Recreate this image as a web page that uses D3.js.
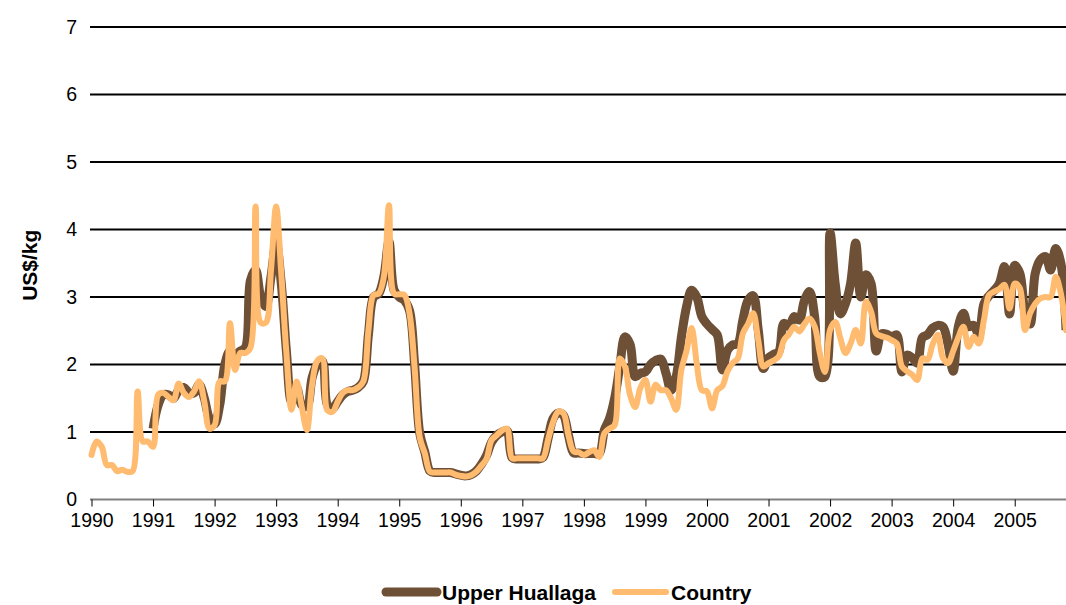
<!DOCTYPE html>
<html>
<head>
<meta charset="utf-8">
<script src="https://cdn.jsdelivr.net/npm/d3@7/dist/d3.min.js"></script>
<style>
  body { margin: 0; background: #fff; }
  svg { font-family: Arial, "Liberation Sans", sans-serif; }
</style>
</head>
<body>
<svg></svg>
<script>
var WIDTH = 1066;
var HEIGHT = 605;

// monthly prices, Jan 1990 .. Nov 2005 (US$/kg)
var years = [1990,1991,1992,1993,1994,1995,1996,1997,1998,1999,2000,2001,2002,2003,2004,2005];
var yTicks = [0,1,2,3,4,5,6,7];

var country = [
  0.66,0.86,0.78,0.51,0.51,0.42,0.44,0.41,0.42,1.60,0.86,0.86,
  0.78,1.55,1.58,1.52,1.47,1.72,1.58,1.52,1.60,1.75,1.45,1.05,
  1.10,1.75,1.75,2.61,1.92,2.17,2.17,2.25,4.34,2.62,2.62,3.40,
  4.34,3.35,2.17,1.33,1.75,1.37,1.03,1.70,2.05,2.09,1.32,1.30,
  1.45,1.58,1.62,1.62,1.66,1.75,2.51,3.03,3.05,3.30,4.36,3.05,
  3.04,3.03,2.76,1.95,0.92,0.68,0.41,0.40,0.40,0.40,0.40,0.37,
  0.35,0.34,0.36,0.41,0.50,0.60,0.88,0.95,1.02,1.05,0.61,0.61,
  0.61,0.61,0.61,0.61,0.61,0.88,1.15,1.30,1.28,0.95,0.71,0.70,
  0.66,0.70,0.73,0.63,0.98,1.05,1.10,2.09,1.97,1.55,1.37,1.65,
  1.77,1.45,1.70,1.62,1.62,1.50,1.33,1.92,2.20,2.54,2.02,1.62,
  1.60,1.35,1.62,1.68,1.90,2.02,2.09,2.46,2.60,2.76,2.36,1.97,
  2.02,2.06,2.12,2.36,2.45,2.56,2.49,2.60,2.68,2.56,2.17,1.89,
  2.51,2.63,2.39,2.17,2.31,2.51,2.31,2.93,2.78,2.46,2.42,2.40,
  2.36,2.31,1.97,1.90,1.85,1.77,2.09,2.07,2.30,2.44,2.10,2.02,
  2.20,2.40,2.56,2.26,2.41,2.31,2.66,3.03,3.08,3.12,3.18,2.83,
  3.20,3.13,2.51,2.76,2.90,2.98,3.00,3.00,3.30,3.05,2.51
];

var upperHuallaga = [
  null,null,null,null,null,null,null,null,null,null,null,null,
  1.05,1.40,1.55,1.55,1.50,1.62,1.66,1.58,1.58,1.70,1.50,1.20,
  1.12,1.40,2.00,2.20,2.15,2.20,2.25,3.25,3.40,3.00,2.86,3.30,
  3.80,3.20,2.20,1.45,1.65,1.40,1.38,1.80,2.00,2.05,1.40,1.35,
  1.45,1.55,1.60,1.62,1.66,1.75,2.45,3.00,3.05,3.30,3.82,3.10,
  3.00,2.95,2.80,2.00,0.98,0.70,0.42,0.40,0.40,0.40,0.40,0.38,
  0.36,0.35,0.37,0.42,0.52,0.65,0.85,0.95,1.00,1.02,0.62,0.60,
  0.60,0.60,0.60,0.60,0.62,0.90,1.20,1.28,1.25,0.95,0.69,0.69,
  0.68,0.68,0.68,0.68,1.03,1.20,1.50,1.97,2.41,2.30,1.82,1.87,
  1.89,2.00,2.06,2.08,1.87,1.62,1.82,2.40,2.85,3.10,3.00,2.71,
  2.60,2.52,2.44,1.92,2.21,2.29,2.31,2.66,2.95,3.02,2.51,1.94,
  2.10,2.15,2.19,2.61,2.56,2.71,2.66,2.95,3.08,2.70,1.82,1.82,
  3.95,3.20,2.75,2.90,3.20,3.80,3.00,3.33,3.20,2.20,2.45,2.45,
  2.41,2.44,1.89,2.14,2.10,2.02,2.40,2.44,2.54,2.58,2.56,2.30,
  1.90,2.56,2.76,2.56,2.58,2.44,2.90,3.02,3.10,3.20,3.45,2.75,
  3.47,3.35,2.78,2.60,3.35,3.55,3.60,3.40,3.72,3.50,2.51
];

var svg = d3.select('svg')
  .attr('width', WIDTH)
  .attr('height', HEIGHT);

var xScale = d3.scaleLinear()
  .domain([0, country.length - 1])
  .range([91.5, 1066]);

var yScale = d3.scaleLinear()
  .domain([0, 7])
  .range([499.5, 27]);

// horizontal gridlines
svg.append('g')
  .selectAll('line')
  .data(yTicks.filter(function(d){ return d > 0; }))
  .enter()
  .append('line')
  .attr('x1', 90)
  .attr('x2', WIDTH)
  .attr('y1', function(d){ return yScale(d); })
  .attr('y2', function(d){ return yScale(d); })
  .attr('stroke', '#000')
  .attr('stroke-width', 2);

// y axis labels (no axis line)
var leftAxis = d3.axisLeft(yScale).tickValues(yTicks).tickFormat(d3.format('d')).tickSize(0).tickPadding(13);
svg.append('g')
  .attr('id', 'y-axis')
  .attr('transform', 'translate(90,0)')
  .call(leftAxis)
  .call(function(g){ g.select('.domain').remove(); })
  .selectAll('text')
  .attr('font-size', 19.5)
  .attr('fill', '#000')
  .attr('font-family', 'Arial, "Liberation Sans", sans-serif');

// x axis
var bottomAxis = d3.axisBottom(xScale)
  .tickValues(years.map(function(y, i){ return i * 12; }))
  .tickFormat(function(d){ return years[d / 12]; })
  .tickSize(7)
  .tickSizeOuter(0)
  .tickPadding(7);
var xAxis = svg.append('g')
  .attr('id', 'x-axis')
  .attr('transform', 'translate(0,' + yScale(0) + ')')
  .call(bottomAxis);
xAxis.select('.domain')
  .attr('d', 'M90,0H' + WIDTH)
  .attr('stroke', '#808080')
  .attr('stroke-width', 2);
xAxis.selectAll('.tick line').attr('stroke', '#000').attr('stroke-width', 1);
xAxis.selectAll('text')
  .attr('font-size', 19.5)
  .attr('fill', '#000')
  .attr('font-family', 'Arial, "Liberation Sans", sans-serif');

// y title
svg.append('text')
  .attr('transform', 'translate(37,' + (yScale(3.5) + 2) + ') rotate(-90)')
  .attr('text-anchor', 'middle')
  .attr('font-size', 21)
  .attr('font-weight', 'bold')
  .text('US$/kg');

// smoothed lines, like the spreadsheet chart
var line = d3.line()
  .defined(function(d){ return d != null; })
  .curve(d3.curveCatmullRom.alpha(0.5))
  .x(function(d, i){ return xScale(i); })
  .y(function(d){ return yScale(d); });

var BROWN = '#6E5037';
var ORANGE = '#FFBB6F';

svg.append('path')
  .datum(upperHuallaga)
  .attr('d', line)
  .attr('fill', 'none')
  .attr('stroke', BROWN)
  .attr('stroke-width', 9)
  .attr('stroke-linejoin', 'round')
  .attr('stroke-linecap', 'butt');

svg.append('path')
  .datum(country)
  .attr('d', line)
  .attr('fill', 'none')
  .attr('stroke', ORANGE)
  .attr('stroke-width', 6)
  .attr('stroke-linejoin', 'round')
  .attr('stroke-linecap', 'round');

// legend
var legend = svg.append('g').attr('transform', 'translate(0,592)');
var items = [
  { name: 'Upper Huallaga', color: BROWN, width: 9, x1: 386, x2: 437 },
  { name: 'Country', color: ORANGE, width: 6, x1: 615, x2: 666 }
];
items.forEach(function(it){
  legend.append('line')
    .attr('x1', it.x1).attr('x2', it.x2)
    .attr('y1', 0).attr('y2', 0)
    .attr('stroke', it.color)
    .attr('stroke-width', it.width)
    .attr('stroke-linecap', 'round');
  legend.append('text')
    .attr('x', it.x2 + 5)
    .attr('y', 7.5)
    .attr('font-size', 21)
    .attr('font-weight', 'bold')
    .text(it.name);
});
</script>
</body>
</html>
